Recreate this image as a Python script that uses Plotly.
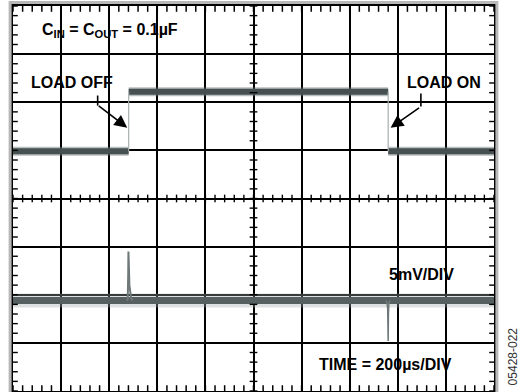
import numpy as np
import plotly.graph_objects as go

# ---------------- data (divisions: x 0..10 @ 200us/div, y 0..8) ----------------
time_range_us = [0, 2000]
us_per_div = 200
n_ydiv = 8

# Channel 1: output voltage response to load step (levels in divisions from bottom)
ch1_low_div = 4.98
ch1_high_div = 6.22
load_off_us = 481
load_on_us = 1560

# Channel 2: 5mV/DIV trace
ch2_base_div = 1.88
ch2_spike_t_us = [472, 477, 479, 480, 482, 484, 487, 491, 497]
ch2_spike_div = [1.88, 1.90, 2.40, 2.90, 2.55, 2.20, 2.02, 1.93, 1.88]
ch2_dip_t_us = [1550, 1555, 1558, 1559, 1560, 1561, 1563, 1568]
ch2_dip_div = [1.88, 1.84, 1.70, 1.30, 1.04, 1.60, 1.82, 1.88]

labels = {
    "cap": "<b>C<sub>IN</sub> = C<sub>OUT</sub> = 0.1µF</b>",
    "off": "<b>LOAD OFF</b>",
    "on": "<b>LOAD ON</b>",
    "vdiv": "<b>5mV/DIV</b>",
    "time": "<b>TIME = 200µs/DIV</b>",
    "code": "05428-022",
}

# ---------------- figure ----------------
def to_div(t):
    return [None if v is None else v / us_per_div for v in t]

t0, t1 = time_range_us
dark = "#465050"
fringe = "rgba(100,110,110,0.45)"
edge = "#a8b0b0"

fig = go.Figure()

# ch1 flat segments (thick band)
c1x = [t0, load_off_us, None, load_off_us, load_on_us, None, load_on_us, t1]
c1y = [ch1_low_div, ch1_low_div, None, ch1_high_div, ch1_high_div, None, ch1_low_div, ch1_low_div]
fig.add_trace(go.Scatter(x=to_div(c1x), y=c1y, mode="lines",
                         line=dict(color=fringe, width=9), hoverinfo="skip"))
fig.add_trace(go.Scatter(x=to_div(c1x), y=c1y, mode="lines",
                         line=dict(color=dark, width=6), hoverinfo="skip"))
# ch1 edges (thin)
ex = [load_off_us, load_off_us, None, load_on_us, load_on_us]
ey = [ch1_low_div, ch1_high_div, None, ch1_high_div, ch1_low_div]
fig.add_trace(go.Scatter(x=to_div(ex), y=ey, mode="lines",
                         line=dict(color=edge, width=1.2), hoverinfo="skip"))

# ch2 baseline band
fig.add_trace(go.Scatter(x=to_div([t0, t1]), y=[ch2_base_div, ch2_base_div], mode="lines",
                         line=dict(color="rgba(160,168,168,0.35)", width=14), hoverinfo="skip"))
fig.add_trace(go.Scatter(x=to_div([t0, t1]), y=[ch2_base_div, ch2_base_div], mode="lines",
                         line=dict(color="#566060", width=7), hoverinfo="skip"))
# ch2 spike and dip
fig.add_trace(go.Scatter(x=to_div(ch2_spike_t_us), y=ch2_spike_div, mode="lines",
                         line=dict(color="#6e7878", width=2), hoverinfo="skip"))
fig.add_trace(go.Scatter(x=to_div(ch2_dip_t_us), y=ch2_dip_div, mode="lines",
                         line=dict(color="#6e7878", width=1.5), hoverinfo="skip"))

nx = (t1 - t0) / us_per_div
shapes = []
# center crosshair minor ticks
for v in np.arange(0, nx + 1e-9, 0.2):
    shapes.append(dict(type="line", xref="x", yref="y", x0=v, x1=v,
                       y0=n_ydiv / 2 - 0.08, y1=n_ydiv / 2 + 0.08,
                       line=dict(color="black", width=1.4)))
for v in np.arange(0, n_ydiv + 1e-9, 0.2):
    shapes.append(dict(type="line", xref="x", yref="y", y0=v, y1=v,
                       x0=nx / 2 - 0.08, x1=nx / 2 + 0.08,
                       line=dict(color="black", width=1.4)))
# frame minor ticks (inward)
for v in np.arange(0, nx + 1e-9, 0.2):
    for yb, yt in ((0, 0.12), (n_ydiv - 0.12, n_ydiv)):
        shapes.append(dict(type="line", xref="x", yref="y", x0=v, x1=v, y0=yb, y1=yt,
                           line=dict(color="black", width=1.5)))
for v in np.arange(0, n_ydiv + 1e-9, 0.2):
    for xa, xb in ((0, 0.1), (nx - 0.1, nx)):
        shapes.append(dict(type="line", xref="x", yref="y", y0=v, y1=v, x0=xa, x1=xb,
                           line=dict(color="black", width=1.4)))
# grey shadow frame
shapes.append(dict(type="rect", xref="paper", yref="paper",
                   x0=-0.006, x1=1.006, y0=-0.01, y1=1.009,
                   line=dict(color="#b8b8b8", width=3), layer="above"))

axis_common = dict(showticklabels=False, showgrid=True, gridcolor="black", gridwidth=1.6,
                   zeroline=False, showline=True, linecolor="black", linewidth=2,
                   mirror=True, ticks="", dtick=1, tick0=0)

fnt = "Liberation Sans, Arial, sans-serif"
fs = 16
ann = []
ann.append(dict(x=0.56, y=7.5, xref="x", yref="y", text=labels["cap"], showarrow=False,
                xanchor="left", yanchor="middle", font=dict(family=fnt, size=fs, color="black")))
ann.append(dict(x=0.34, y=6.41, xref="x", yref="y", text=labels["off"], showarrow=False,
                xanchor="left", yanchor="middle", font=dict(family=fnt, size=fs, color="black")))
ann.append(dict(x=9.78, y=6.41, xref="x", yref="y", text=labels["on"], showarrow=False,
                xanchor="right", yanchor="middle", font=dict(family=fnt, size=fs, color="black")))
ann.append(dict(x=9.21, y=2.42, xref="x", yref="y", text=labels["vdiv"], showarrow=False,
                xanchor="right", yanchor="middle", font=dict(family=fnt, size=fs, color="black")))
ann.append(dict(x=9.17, y=0.56, xref="x", yref="y", text=labels["time"], showarrow=False,
                xanchor="right", yanchor="middle", font=dict(family=fnt, size=fs, color="black")))
ann.append(dict(x=1.04, y=0.01, xref="paper", yref="paper", text=labels["code"], showarrow=False,
                textangle=-90, xanchor="center", yanchor="bottom",
                font=dict(family=fnt, size=12, color="#333333")))
# arrows
ann.append(dict(x=load_off_us / us_per_div - 0.03, y=5.47, xref="x", yref="y", text="",
                showarrow=True, axref="pixel", ayref="pixel", ax=-30, ay=-23,
                arrowhead=2, arrowsize=1.6, arrowwidth=1.6, arrowcolor="black"))
ann.append(dict(x=load_on_us / us_per_div + 0.05, y=5.47, xref="x", yref="y", text="",
                showarrow=True, axref="pixel", ayref="pixel", ax=30, ay=-21,
                arrowhead=2, arrowsize=1.6, arrowwidth=1.6, arrowcolor="black"))
# arrow stubs
shapes.append(dict(type="line", xref="x", yref="y", x0=1.76, x1=1.76, y0=6.14, y1=5.93,
                   line=dict(color="black", width=1.6)))
shapes.append(dict(type="line", xref="x", yref="y", x0=8.48, x1=8.48, y0=6.18, y1=5.91,
                   line=dict(color="black", width=1.6)))

fig.update_layout(
    width=523, height=392,
    margin=dict(l=13, r=29, t=6, b=1),
    paper_bgcolor="white", plot_bgcolor="white",
    showlegend=False,
    xaxis=dict(range=[0, nx], **axis_common),
    yaxis=dict(range=[0, n_ydiv], **axis_common),
    shapes=shapes, annotations=ann,
)
fig.write_html("out.html")
